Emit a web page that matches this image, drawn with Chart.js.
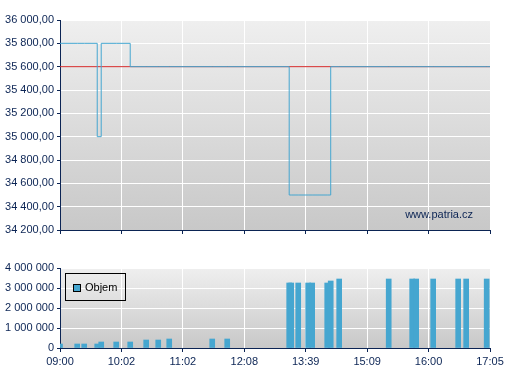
<!DOCTYPE html>
<html><head><meta charset="utf-8">
<script src="https://cdn.jsdelivr.net/npm/chart.js@4"></script>
<style>
html,body{margin:0;padding:0;background:#fff;width:507px;height:380px;overflow:hidden;position:relative}
canvas{position:absolute;left:0}
#top{top:0}
#bot{top:248px}
#legend{position:absolute;left:65px;top:273px;width:59px;height:26px;border:1px solid #000;font:11px 'Liberation Sans',Arial,sans-serif;color:#000}
#legend .sw{position:absolute;left:7px;top:10px;width:6px;height:6px;border:1px solid #000;background:#45a6d0}
#legend .tx{position:absolute;left:19px;top:7px;line-height:13px}
</style></head>
<body>
<canvas id="top" width="507" height="240"></canvas>
<canvas id="bot" width="507" height="132"></canvas>
<div id="legend"><span class="sw"></span><span class="tx">Objem</span></div>
<script>
// ---- data ----
const TIME_LABELS = ['09:00','10:02','11:02','12:08','13:39','15:09','16:00','17:05'];
// trade positions on the compressed intraday axis (10 units between labels)
const TRADE_POS = [0, 2.80, 3.94, 6.06, 6.71, 9.15, 11.43, 14.03, 15.99, 17.78, 24.78, 27.22,
                   37.31, 37.64, 38.78, 40.40, 41.05, 43.50, 44.07, 45.45, 53.51, 57.33, 57.98,
                   60.75, 64.82, 66.12, 69.46];
const PRICES = [35800, 35800, 35800, 35000, 35800, 35800, 35600, 35600, 35600, 35600, 35600, 35600,
                34500, 34500, 34500, 34500, 34500, 34500, 35600, 35600, 35600, 35600, 35600,
                35600, 35600, 35600, 35600];
const VOLUMES = [200000, 200000, 200000, 200000, 300000, 300000, 300000, 400000, 400000, 450000, 450000, 450000,
                 3250000, 3250000, 3250000, 3250000, 3250000, 3250000, 3350000, 3450000, 3450000, 3450000, 3450000,
                 3450000, 3450000, 3450000, 3450000];
const PREV_CLOSE = 35600;
const PRICE_MIN = 34200, PRICE_MAX = 36000, PRICE_STEP = 200;
const VOL_MIN = 0, VOL_MAX = 4000000, VOL_STEP = 1000000;

// ---- styling ----
const NAVY = '#0b2454';
const BLUE = '#45a6d0';
const RED = '#d42a2a';
const X_STEP = 10;
const X_MAX = (TIME_LABELS.length - 1) * X_STEP;

Chart.defaults.font.family = "'Liberation Sans', Arial, sans-serif";
Chart.defaults.font.size = 11;
Chart.defaults.color = NAVY;

function groupDigits(n){ return String(Math.round(n)).replace(/\B(?=(\d{3})+(?!\d))/g, ' '); }

const bgPlugin = {id:'bg', beforeDraw(chart){
  const {ctx, chartArea:a} = chart;
  const g = ctx.createLinearGradient(0, a.top, 0, a.bottom);
  g.addColorStop(0, '#efefef'); g.addColorStop(1, '#c8c8c8');
  ctx.save(); ctx.fillStyle = g; ctx.fillRect(a.left, a.top, a.right - a.left, a.bottom - a.top); ctx.restore();
}};
const markPlugin = {id:'mark', afterDraw(chart){
  const {ctx, chartArea:a} = chart;
  ctx.save(); ctx.font = "11px 'Liberation Sans', Arial, sans-serif"; ctx.fillStyle = NAVY;
  ctx.textAlign = 'right'; ctx.textBaseline = 'alphabetic';
  ctx.fillText('www.patria.cz', a.right - 17, a.bottom - 12);
  ctx.restore();
}};

function xScale(showLabels){
  return {type:'linear', min:0, max:X_MAX, offset:false,
    ticks:{stepSize:X_STEP, display:showLabels, autoSkip:false, maxRotation:0, color:NAVY, padding:3,
      callback:v => TIME_LABELS[Math.round(v / X_STEP)]},
    grid:{color:'#ffffff', lineWidth:1, tickLength:4, tickColor:NAVY, offset:false, drawTicks:true},
    border:{color:NAVY, width:1},
    afterFit(s){ s.height = showLabels ? 32 : 10; }};
}
function yScale(min, max, step, fmt){
  return {type:'linear', min, max,
    ticks:{stepSize:step, color:NAVY, padding:3, callback:fmt},
    grid:{color:'#ffffff', lineWidth:1, tickLength:3, tickColor:NAVY},
    border:{color:NAVY, width:1},
    afterFit(s){ s.width = 60; }};
}

const priceData = TRADE_POS.map((x, i) => ({x, y: PRICES[i]}));
priceData.push({x: X_MAX, y: PRICES[PRICES.length - 1]});

new Chart(document.getElementById('top'), {
  type:'line',
  data:{datasets:[
    {label:'Cena', data:priceData, borderColor:BLUE, borderWidth:1, stepped:'before', pointRadius:0, fill:false},
    {label:'Předchozí závěr', data:[{x:0, y:PREV_CLOSE}, {x:X_MAX, y:PREV_CLOSE}], borderColor:RED, borderWidth:1, pointRadius:0, fill:false}
  ]},
  options:{responsive:false, animation:false,
    layout:{padding:{top:20, right:17, left:0, bottom:0}},
    plugins:{legend:{display:false}, tooltip:{enabled:false}},
    scales:{x:xScale(false), y:yScale(PRICE_MIN, PRICE_MAX, PRICE_STEP, v => groupDigits(v) + ',00')}},
  plugins:[bgPlugin, markPlugin]
});

new Chart(document.getElementById('bot'), {
  type:'bar',
  data:{datasets:[
    {label:'Objem', data:TRADE_POS.map((x, i) => ({x, y: VOLUMES[i]})), backgroundColor:BLUE, borderWidth:0, barThickness:5}
  ]},
  options:{responsive:false, animation:false,
    layout:{padding:{top:20, right:17, left:0, bottom:0}},
    plugins:{legend:{display:false}, tooltip:{enabled:false}},
    scales:{x:xScale(true), y:yScale(VOL_MIN, VOL_MAX, VOL_STEP, v => groupDigits(v))}},
  plugins:[bgPlugin]
});
</script>
</body></html>
